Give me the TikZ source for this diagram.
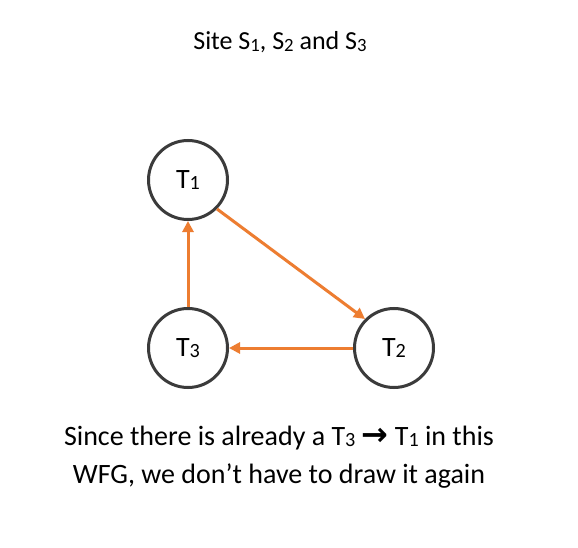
\documentclass[tikz,border=0pt]{standalone}
\usepackage{fontspec}
\setmainfont{Carlito}
\newfontfamily\symfont{DejaVu Sans}
\usetikzlibrary{arrows.meta}
\definecolor{wfgorange}{HTML}{ED7D31}
\definecolor{ringgray}{HTML}{3B3B3B}
\newcommand\sbs[1]{\raisebox{-0.06em}{\scalebox{0.72}{#1}}}
\tikzset{
  txn/.style={circle, draw=ringgray, line width=3pt, minimum size=79pt, inner sep=0pt, font=\fontsize{28}{32}\selectfont},
  waitedge/.style={draw=wfgorange, line width=3pt, -{Triangle[length=11pt,width=11pt]}}
}
\begin{document}
\begin{tikzpicture}[x=1pt,y=-1pt]
\useasboundingbox[fill=white] (0,0) rectangle (578,548);
\node[font=\fontsize{26}{30}\selectfont, anchor=base] (title) at (280,50) {Site S\sbs{1}, S\sbs{2} and S\sbs{3}};
\node[txn] (t1) at (188,180) {T\sbs{1}};
\node[txn] (t2) at (394,348) {T\sbs{2}};
\node[txn] (t3) at (188,348) {T\sbs{3}};
\draw[waitedge] (t1.-45) -- (t2.135);
\draw[waitedge] (t2) -- (t3);
\draw[waitedge] (t3) -- (t1);
\node[font=\fontsize{28}{38}\selectfont, align=center, anchor=base] (note) at (279,483) {Since there is already a T\sbs{3} {\symfont\bfseries\fontsize{32}{38}\selectfont →} T\sbs{1} in this\\WFG, we don’t have to draw it again};
\end{tikzpicture}
\end{document}
